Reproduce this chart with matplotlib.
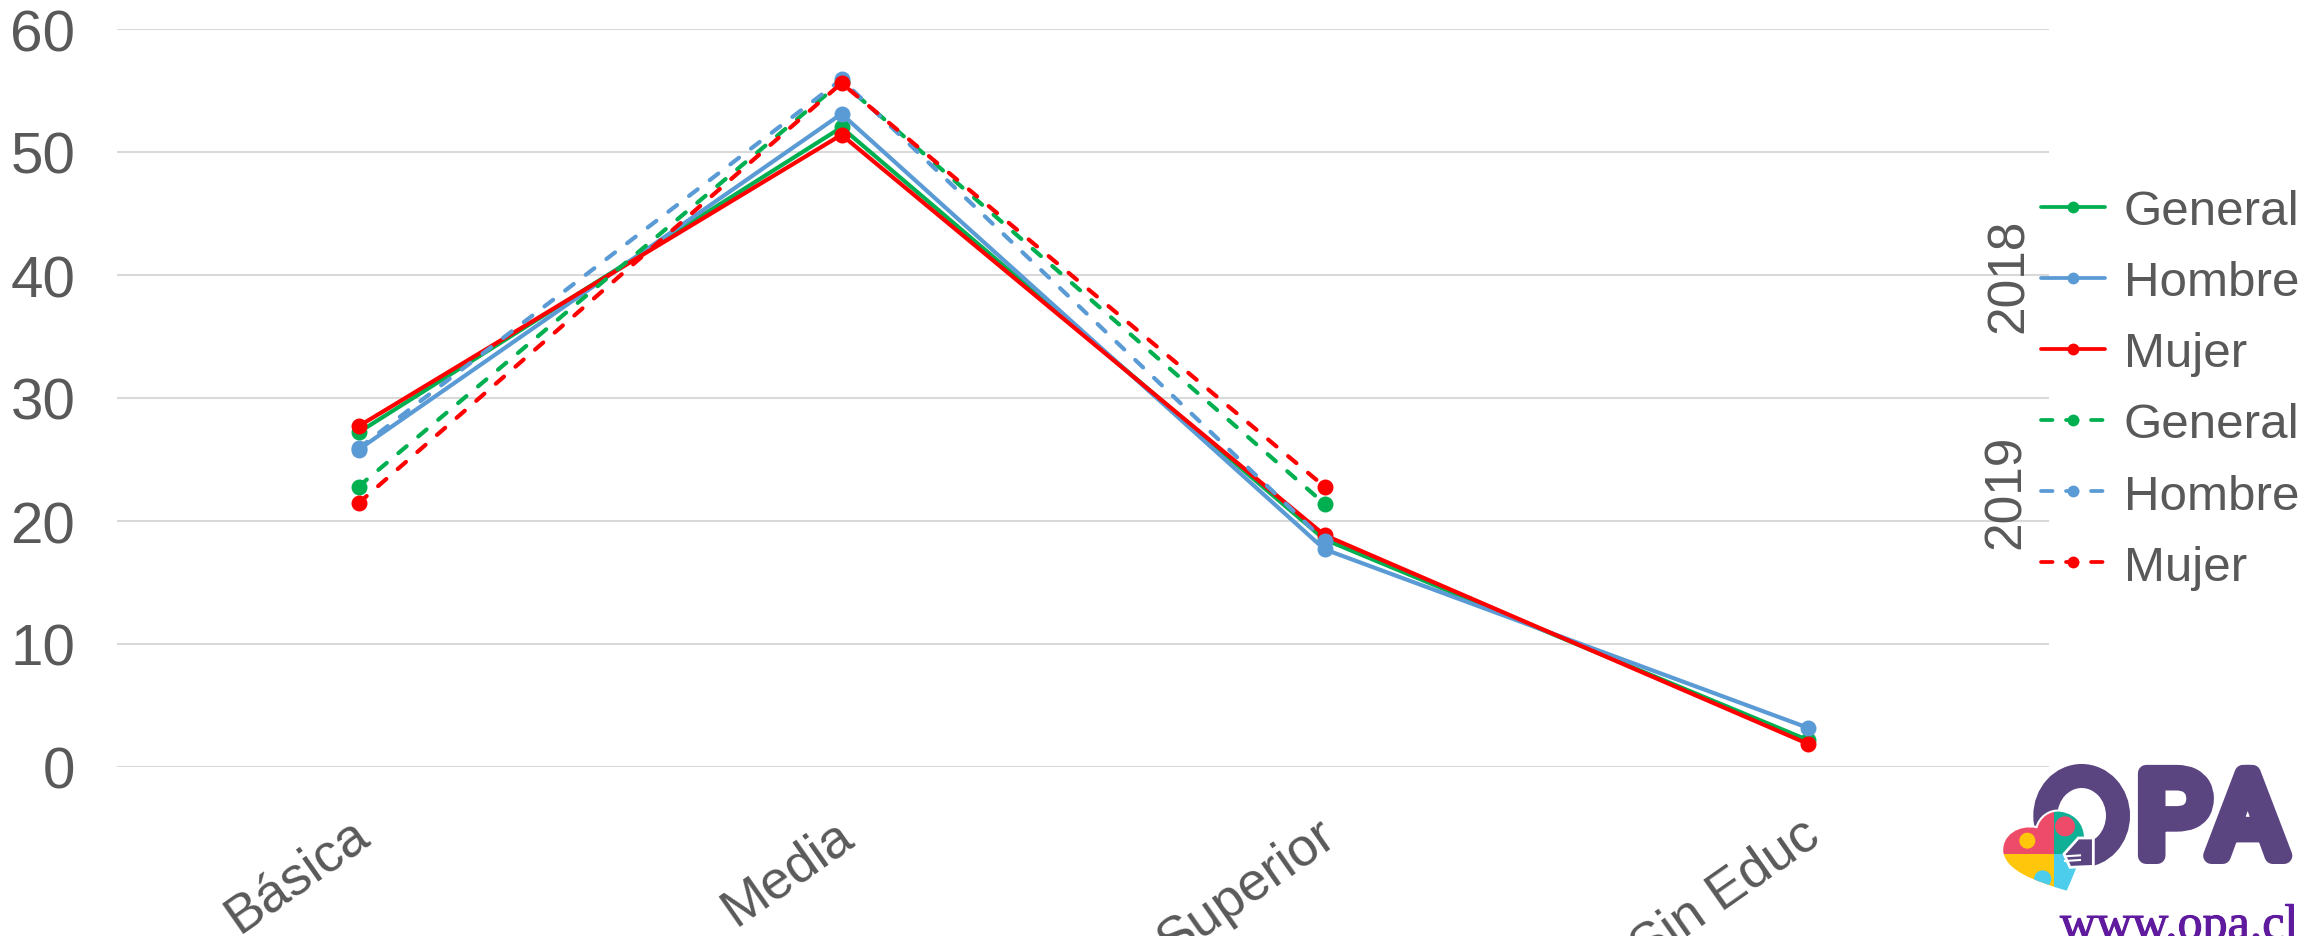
import matplotlib
matplotlib.use("Agg")
import matplotlib.pyplot as plt
import matplotlib.patheffects as pe
from matplotlib.lines import Line2D
from matplotlib.patches import PathPatch, Ellipse, Circle, Rectangle, Polygon
from matplotlib.path import Path
from matplotlib.transforms import ScaledTranslation

W, H = 2323, 937
categories = ["Básica", "Media", "Superior", "Sin Educ"]
general_2018 = [27.2, 52.0, 18.5, 2.2]
hombre_2018 = [25.8, 53.1, 17.7, 3.2]
mujer_2018 = [27.7, 51.4, 18.85, 1.9]
general_2019 = [22.8, 55.7, 21.4]
hombre_2019 = [25.9, 55.9, 18.4]
mujer_2019 = [21.45, 55.6, 22.8]
yticks = [0, 10, 20, 30, 40, 50, 60]
GREEN, BLUE, RED = "#00B050", "#5B9BD5", "#FF0000"
TXT = "#595959"

plt.rcParams["font.family"] = ["Liberation Sans", "DejaVu Sans"]
fig = plt.figure(figsize=(W / 100, H / 100), dpi=100, facecolor="white")
ax = fig.add_axes([117 / W, 1 - 768 / H, (2049 - 117) / W, (768 - 30) / H])
ax.set_xlim(-0.5, 3.5)
ax.set_ylim(0, 60)
for s in ax.spines.values():
    s.set_visible(False)
ax.set_yticks(yticks)
ax.set_xticks(range(4))
ax.grid(axis="y", color="#D9D9D9", lw=1.5, zorder=0)
ax.set_axisbelow(True)
ax.tick_params(axis="both", length=0, labelsize=39, labelcolor=TXT)
ax.tick_params(axis="y", labelsize=42, pad=30)
ax.tick_params(axis="x", pad=30)
ax.set_xticklabels(categories, rotation=35, ha="right", rotation_mode="anchor")
for t in ax.get_xticklabels():
    t.set_transform(t.get_transform() + ScaledTranslation(-0.08, 0, fig.dpi_scale_trans))

DASH = (0, (2.6, 3.64))
LW = 3.0
MS = 11.5
series = [
    (general_2018, GREEN, "-", "General"), (hombre_2018, BLUE, "-", "Hombre"), (mujer_2018, RED, "-", "Mujer"),
    (general_2019, GREEN, DASH, "General"), (hombre_2019, BLUE, DASH, "Hombre"), (mujer_2019, RED, DASH, "Mujer"),
]
handles = []
for i, (vals, col, ls, lab) in enumerate(series):
    ax.plot(range(len(vals)), vals, color=col, ls=ls, lw=LW, marker="o", ms=MS, mew=0,
            dash_capstyle="round", solid_capstyle="round", clip_on=False, zorder=3 + i)
    handles.append(Line2D([], [], color=col, ls=(0, (3.07, 3.6)) if ls != "-" else "-", lw=2.7, marker="o", ms=8.5, mew=0,
                          dash_capstyle="round", solid_capstyle="round", label=lab))

ax.legend(handles=handles, loc="upper left", bbox_to_anchor=(2041 / W, 1 - 190 / H), bbox_transform=fig.transFigure,
          frameon=False, fontsize=35.5, labelcolor=TXT, handlelength=1.3, handletextpad=0.38,
          labelspacing=0.53, borderpad=0, borderaxespad=0, numpoints=1)
fig.text(2009 / W, 1 - 276 / H, "2018", rotation=90, ha="center", va="center", fontsize=37, color=TXT)
fig.text(2006 / W, 1 - 492 / H, "2019", rotation=90, ha="center", va="center", fontsize=37, color=TXT)

# logo, drawn in coordinates of a 3x crop of the corner
lg = fig.add_axes([1950 / W, 0, 373 / W, 197 / H])
lg.set_xlim(0, 1119)
lg.set_ylim(591, 0)
lg.axis("off")
lg.patch.set_alpha(0)
PUR = "#5A4580"
lg.add_patch(Ellipse((395, 230), 218, 238, fc="none", ec=PUR, lw=17.3))
lg.text(560, 350, "PA", fontsize=83.5, color=PUR, family=["Roboto", "Liberation Sans"], ha="left", va="baseline",
        path_effects=[pe.withStroke(linewidth=12, foreground=PUR, joinstyle="round")])
M, C = Path.MOVETO, Path.CURVE4
heart = Path([(350, 455), (250, 425), (170, 395), (160, 340), (155, 290), (205, 255), (262, 268),
              (270, 235), (300, 215), (330, 218), (385, 225), (410, 270), (400, 320), (385, 380), (365, 420), (350, 455), (350, 455)],
             [M, C, C, C, C, C, C, C, C, C, C, C, C, C, C, C, Path.CLOSEPOLY])
hp = PathPatch(heart, fc="white", ec="white", lw=3)
lg.add_patch(hp)
parts = [
    Rectangle((150, 200), 162, 145, fc="#EE4B6A"), Rectangle((312, 200), 110, 145, fc="#10B096"),
    Rectangle((150, 345), 162, 120, fc="#FFC60B"), Rectangle((312, 345), 110, 120, fc="#4CCDEB"),
    Circle((232, 305), 24, fc="#FFC60B"), Circle((345, 262), 30, fc="#EE4B6A"), Circle((278, 420), 26, fc="#4CCDEB"),
]
for p in parts:
    lg.add_patch(p)
    p.set_clip_path(hp)
lg.add_patch(Polygon([(342, 345), (385, 297), (430, 297), (430, 382), (360, 385)], fc=PUR, ec="white", lw=2))
for yy in (352, 366):
    lg.plot([345, 390], [yy, yy - 3], color="white", lw=1.5)
fig.text(2060 / W, 1 - 940 / H, "www.opa.cl", fontsize=36, color="#5F1A9E", family="Liberation Serif", ha="left", va="baseline",
         path_effects=[pe.withStroke(linewidth=0.8, foreground="#5F1A9E")])

fig.savefig("out.png", dpi=100, facecolor="white")
